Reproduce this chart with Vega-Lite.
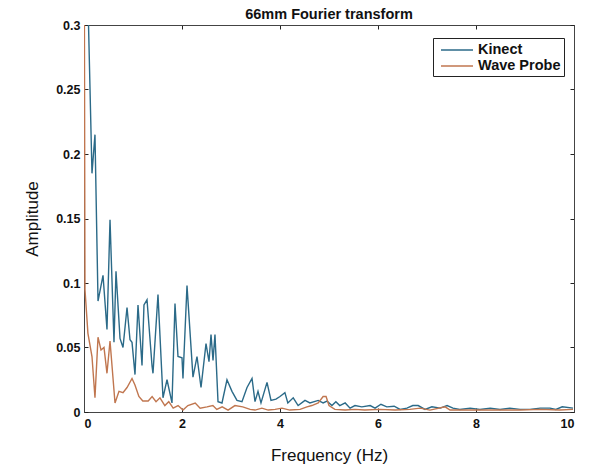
{
  "$schema": "https://vega.github.io/schema/vega-lite/v6.json",
  "autosize": {"type": "none"},
  "width": 490,
  "height": 387,
  "padding": {"left": 84, "top": 25, "right": 19, "bottom": 58},
  "background": "white",
  "title": {"text": "66mm Fourier transform", "font": "Liberation Sans", "fontSize": 14.5, "fontWeight": "bold", "color": "#111", "offset": 0, "dy": 3},
  "config": {
    "view": {"stroke": "#444", "strokeWidth": 1},
    "axis": {"grid": false, "domainColor": "#444", "tickColor": "#222", "labelFont": "Liberation Sans", "titleFont": "Liberation Sans", "labelColor": "#111", "titleColor": "#111", "labelFontSize": 12.5, "labelFontWeight": "bold", "titleFontSize": 17, "titleFontWeight": "normal", "tickSize": -4}
  },
  "data": {"values": [
    {"s":"Kinect","f":0,"a":0.45},
    {"s":"Kinect","f":0.163,"a":0.185},
    {"s":"Kinect","f":0.224,"a":0.215},
    {"s":"Kinect","f":0.286,"a":0.086},
    {"s":"Kinect","f":0.388,"a":0.106},
    {"s":"Kinect","f":0.469,"a":0.064},
    {"s":"Kinect","f":0.531,"a":0.149},
    {"s":"Kinect","f":0.612,"a":0.054},
    {"s":"Kinect","f":0.653,"a":0.109},
    {"s":"Kinect","f":0.735,"a":0.057},
    {"s":"Kinect","f":0.796,"a":0.05},
    {"s":"Kinect","f":0.878,"a":0.081},
    {"s":"Kinect","f":0.939,"a":0.056},
    {"s":"Kinect","f":0.98,"a":0.054},
    {"s":"Kinect","f":1.041,"a":0.029},
    {"s":"Kinect","f":1.102,"a":0.083},
    {"s":"Kinect","f":1.184,"a":0.036},
    {"s":"Kinect","f":1.224,"a":0.083},
    {"s":"Kinect","f":1.286,"a":0.087},
    {"s":"Kinect","f":1.388,"a":0.036},
    {"s":"Kinect","f":1.408,"a":0.03},
    {"s":"Kinect","f":1.51,"a":0.091},
    {"s":"Kinect","f":1.612,"a":0.011},
    {"s":"Kinect","f":1.694,"a":0.025},
    {"s":"Kinect","f":1.796,"a":0.007},
    {"s":"Kinect","f":1.857,"a":0.084},
    {"s":"Kinect","f":1.918,"a":0.043},
    {"s":"Kinect","f":2.0,"a":0.042},
    {"s":"Kinect","f":2.02,"a":0.026},
    {"s":"Kinect","f":2.102,"a":0.098},
    {"s":"Kinect","f":2.224,"a":0.027},
    {"s":"Kinect","f":2.306,"a":0.043},
    {"s":"Kinect","f":2.388,"a":0.019},
    {"s":"Kinect","f":2.49,"a":0.053},
    {"s":"Kinect","f":2.551,"a":0.039},
    {"s":"Kinect","f":2.592,"a":0.06},
    {"s":"Kinect","f":2.633,"a":0.04},
    {"s":"Kinect","f":2.673,"a":0.06},
    {"s":"Kinect","f":2.735,"a":0.008},
    {"s":"Kinect","f":2.816,"a":0.007},
    {"s":"Kinect","f":2.918,"a":0.025},
    {"s":"Kinect","f":3.02,"a":0.016},
    {"s":"Kinect","f":3.122,"a":0.009},
    {"s":"Kinect","f":3.224,"a":0.008},
    {"s":"Kinect","f":3.327,"a":0.019},
    {"s":"Kinect","f":3.429,"a":0.026},
    {"s":"Kinect","f":3.49,"a":0.008},
    {"s":"Kinect","f":3.551,"a":0.016},
    {"s":"Kinect","f":3.612,"a":0.007},
    {"s":"Kinect","f":3.735,"a":0.023},
    {"s":"Kinect","f":3.816,"a":0.009},
    {"s":"Kinect","f":3.918,"a":0.01},
    {"s":"Kinect","f":4.0,"a":0.012},
    {"s":"Kinect","f":4.1,"a":0.015},
    {"s":"Kinect","f":4.16,"a":0.007},
    {"s":"Kinect","f":4.27,"a":0.011},
    {"s":"Kinect","f":4.37,"a":0.005},
    {"s":"Kinect","f":4.51,"a":0.009},
    {"s":"Kinect","f":4.61,"a":0.007},
    {"s":"Kinect","f":4.78,"a":0.009},
    {"s":"Kinect","f":4.88,"a":0.007},
    {"s":"Kinect","f":4.96,"a":0.0085},
    {"s":"Kinect","f":5.06,"a":0.005},
    {"s":"Kinect","f":5.14,"a":0.008},
    {"s":"Kinect","f":5.22,"a":0.005},
    {"s":"Kinect","f":5.33,"a":0.007},
    {"s":"Kinect","f":5.43,"a":0.003},
    {"s":"Kinect","f":5.53,"a":0.005},
    {"s":"Kinect","f":5.67,"a":0.004},
    {"s":"Kinect","f":5.84,"a":0.005},
    {"s":"Kinect","f":5.94,"a":0.003},
    {"s":"Kinect","f":6.06,"a":0.006},
    {"s":"Kinect","f":6.18,"a":0.004},
    {"s":"Kinect","f":6.33,"a":0.0045},
    {"s":"Kinect","f":6.45,"a":0.002},
    {"s":"Kinect","f":6.59,"a":0.003},
    {"s":"Kinect","f":6.71,"a":0.005},
    {"s":"Kinect","f":6.82,"a":0.005},
    {"s":"Kinect","f":6.96,"a":0.002},
    {"s":"Kinect","f":7.1,"a":0.004},
    {"s":"Kinect","f":7.27,"a":0.003},
    {"s":"Kinect","f":7.41,"a":0.005},
    {"s":"Kinect","f":7.53,"a":0.003},
    {"s":"Kinect","f":7.67,"a":0.002},
    {"s":"Kinect","f":7.88,"a":0.003},
    {"s":"Kinect","f":8.08,"a":0.002},
    {"s":"Kinect","f":8.29,"a":0.003},
    {"s":"Kinect","f":8.49,"a":0.002},
    {"s":"Kinect","f":8.69,"a":0.003},
    {"s":"Kinect","f":8.9,"a":0.002},
    {"s":"Kinect","f":9.1,"a":0.002},
    {"s":"Kinect","f":9.31,"a":0.003},
    {"s":"Kinect","f":9.51,"a":0.003},
    {"s":"Kinect","f":9.63,"a":0.002},
    {"s":"Kinect","f":9.76,"a":0.004},
    {"s":"Kinect","f":9.98,"a":0.003},
    {"s":"Wave Probe","f":0,"a":0.45},
    {"s":"Wave Probe","f":0.02,"a":0.095},
    {"s":"Wave Probe","f":0.08,"a":0.061},
    {"s":"Wave Probe","f":0.163,"a":0.043},
    {"s":"Wave Probe","f":0.224,"a":0.011},
    {"s":"Wave Probe","f":0.286,"a":0.058},
    {"s":"Wave Probe","f":0.347,"a":0.048},
    {"s":"Wave Probe","f":0.408,"a":0.05},
    {"s":"Wave Probe","f":0.469,"a":0.03},
    {"s":"Wave Probe","f":0.531,"a":0.055},
    {"s":"Wave Probe","f":0.633,"a":0.007},
    {"s":"Wave Probe","f":0.714,"a":0.016},
    {"s":"Wave Probe","f":0.796,"a":0.015},
    {"s":"Wave Probe","f":0.878,"a":0.019},
    {"s":"Wave Probe","f":0.98,"a":0.026},
    {"s":"Wave Probe","f":1.04,"a":0.021},
    {"s":"Wave Probe","f":1.12,"a":0.012},
    {"s":"Wave Probe","f":1.2,"a":0.0085},
    {"s":"Wave Probe","f":1.31,"a":0.0085},
    {"s":"Wave Probe","f":1.39,"a":0.012},
    {"s":"Wave Probe","f":1.47,"a":0.008},
    {"s":"Wave Probe","f":1.55,"a":0.011},
    {"s":"Wave Probe","f":1.65,"a":0.005},
    {"s":"Wave Probe","f":1.73,"a":0.008},
    {"s":"Wave Probe","f":1.82,"a":0.003},
    {"s":"Wave Probe","f":1.92,"a":0.005},
    {"s":"Wave Probe","f":2.02,"a":0.0015},
    {"s":"Wave Probe","f":2.12,"a":0.005},
    {"s":"Wave Probe","f":2.27,"a":0.007},
    {"s":"Wave Probe","f":2.37,"a":0.003},
    {"s":"Wave Probe","f":2.51,"a":0.004},
    {"s":"Wave Probe","f":2.63,"a":0.005},
    {"s":"Wave Probe","f":2.71,"a":0.002},
    {"s":"Wave Probe","f":2.82,"a":0.004},
    {"s":"Wave Probe","f":2.94,"a":0.0015},
    {"s":"Wave Probe","f":3.08,"a":0.005},
    {"s":"Wave Probe","f":3.24,"a":0.004},
    {"s":"Wave Probe","f":3.39,"a":0.002},
    {"s":"Wave Probe","f":3.49,"a":0.0015},
    {"s":"Wave Probe","f":3.63,"a":0.003},
    {"s":"Wave Probe","f":3.76,"a":0.0015},
    {"s":"Wave Probe","f":3.9,"a":0.002},
    {"s":"Wave Probe","f":4.04,"a":0.003},
    {"s":"Wave Probe","f":4.2,"a":0.0015},
    {"s":"Wave Probe","f":4.41,"a":0.002},
    {"s":"Wave Probe","f":4.55,"a":0.004},
    {"s":"Wave Probe","f":4.65,"a":0.005},
    {"s":"Wave Probe","f":4.78,"a":0.007},
    {"s":"Wave Probe","f":4.88,"a":0.012},
    {"s":"Wave Probe","f":4.94,"a":0.012},
    {"s":"Wave Probe","f":5.0,"a":0.005},
    {"s":"Wave Probe","f":5.12,"a":0.002},
    {"s":"Wave Probe","f":5.33,"a":0.0015},
    {"s":"Wave Probe","f":5.53,"a":0.002},
    {"s":"Wave Probe","f":5.73,"a":0.0015},
    {"s":"Wave Probe","f":6.04,"a":0.002},
    {"s":"Wave Probe","f":6.35,"a":0.0015},
    {"s":"Wave Probe","f":6.65,"a":0.002},
    {"s":"Wave Probe","f":6.86,"a":0.003},
    {"s":"Wave Probe","f":7.06,"a":0.0015},
    {"s":"Wave Probe","f":7.37,"a":0.004},
    {"s":"Wave Probe","f":7.47,"a":0.0015},
    {"s":"Wave Probe","f":7.78,"a":0.0015},
    {"s":"Wave Probe","f":8.08,"a":0.0015},
    {"s":"Wave Probe","f":8.49,"a":0.0015},
    {"s":"Wave Probe","f":8.9,"a":0.0015},
    {"s":"Wave Probe","f":9.31,"a":0.002},
    {"s":"Wave Probe","f":9.71,"a":0.0015},
    {"s":"Wave Probe","f":9.98,"a":0.002}
  ]},
  "layer": [
    {
      "mark": {"type": "line", "clip": true, "strokeWidth": 1.4},
      "encoding": {
        "x": {"field": "f", "type": "quantitative", "scale": {"domain": [0, 10], "nice": false}, "axis": {"orient": "bottom", "values": [0, 2, 4, 6, 8, 10], "title": "Frequency (Hz)", "labelPadding": 9, "titlePadding": 18}},
        "y": {"field": "a", "type": "quantitative", "scale": {"domain": [0, 0.3], "nice": false}, "axis": {"orient": "left", "values": [0, 0.05, 0.1, 0.15, 0.2, 0.25, 0.3], "format": "~g", "title": "Amplitude", "labelPadding": 8, "titlePadding": 14}},
        "color": {"field": "s", "type": "nominal", "scale": {"domain": ["Kinect", "Wave Probe"], "range": ["#2b6a88", "#c0764f"]},
          "legend": {"title": null, "orient": "none", "legendX": 349, "legendY": 13, "direction": "vertical", "symbolType": "M-0.5,0H3.5", "symbolSize": 256, "symbolStrokeWidth": 1.5, "labelFont": "Liberation Sans", "labelFontSize": 14.5, "labelFontWeight": "bold", "labelColor": "#111", "strokeColor": "#222", "fillColor": "white", "padding": 3, "rowPadding": 0, "labelOffset": 24, "offset": 0}}
      }
    },
    {
      "mark": {"type": "line", "opacity": 0, "clip": true},
      "encoding": {
        "x": {"field": "f", "type": "quantitative", "axis": {"orient": "top", "values": [0, 2, 4, 6, 8, 10], "labels": false, "title": null}},
        "y": {"field": "a", "type": "quantitative", "axis": {"orient": "right", "values": [0, 0.05, 0.1, 0.15, 0.2, 0.25, 0.3], "labels": false, "title": null}},
        "detail": {"field": "s", "type": "nominal"}
      }
    }
  ],
  "resolve": {"axis": {"x": "independent", "y": "independent"}}
}
